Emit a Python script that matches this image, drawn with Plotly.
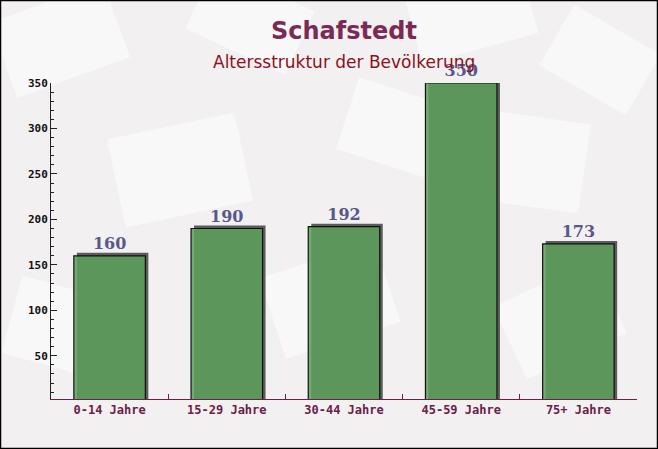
import math
import plotly.graph_objects as go

categories = ["0-14 Jahre", "15-29 Jahre", "30-44 Jahre", "45-59 Jahre", "75+ Jahre"]
values = [160, 190, 192, 350, 173]
title_text = "Schafstedt"
subtitle_text = "Altersstruktur der Bevölkerung"

W, H = 658, 449
ML, MR, MT, MB = 51, 21, 83, 50
pw, ph = W - ML - MR, H - MT - MB

def px2paper_x(px):
    return (px - ML) / pw

def px2paper_y(py):
    return (H - MB - py) / ph

fig = go.Figure()

bar_w = 0.61
shift = 3 / (pw / len(categories))  # 3 px shadow offset in category units
yrange = [2.5, 350]
unit_per_px = (yrange[1] - yrange[0]) / ph

# shadow bars
fig.add_trace(go.Bar(
    x=categories, y=[v + 3 * unit_per_px for v in values],
    width=bar_w, offset=-bar_w / 2 + shift,
    marker=dict(color="rgba(75,75,75,0.9)", line=dict(width=0)),
    hoverinfo="skip", showlegend=False,
))
# main bars
fig.add_trace(go.Bar(
    x=categories, y=values,
    width=bar_w, offset=-bar_w / 2,
    marker=dict(color="rgba(92,160,90,0.85)", line=dict(color="#111111", width=1.2)),
    text=[str(v) for v in values], textposition="outside",
    textfont=dict(family="DejaVu Serif", size=16, color="#58598a", weight="bold"),
    cliponaxis=False, showlegend=False,
))

# decorative background envelopes (light, rotated rectangles)
env = [
    (60, 40, 120, 80, -20), (250, 20, 110, 70, 25), (470, 10, 120, 80, -15),
    (600, 60, 100, 70, 30), (180, 170, 130, 90, -12), (520, 160, 130, 90, 8),
    (330, 300, 120, 85, -18), (70, 330, 120, 80, 15), (560, 320, 110, 80, -25),
    (400, 130, 110, 75, 18),
]
shapes = []
for cx, cy, w, h, ang in env:
    a = math.radians(ang)
    pts = []
    for dx, dy in [(-w/2, -h/2), (w/2, -h/2), (w/2, h/2), (-w/2, h/2)]:
        x = cx + dx * math.cos(a) - dy * math.sin(a)
        y = cy + dx * math.sin(a) + dy * math.cos(a)
        pts.append((px2paper_x(x), px2paper_y(y)))
    path = "M " + " L ".join(f"{x:.4f},{y:.4f}" for x, y in pts) + " Z"
    shapes.append(dict(type="path", xref="paper", yref="paper", path=path,
                       fillcolor="rgba(255,255,255,0.5)", line=dict(width=0),
                       layer="below"))
# outer border
shapes.append(dict(type="rect", xref="paper", yref="paper",
                   x0=px2paper_x(0.5), x1=px2paper_x(W - 0.5),
                   y0=px2paper_y(H - 0.5), y1=px2paper_y(0.5),
                   line=dict(color="#000000", width=1.5), layer="above"))

fig.update_layout(
    width=W, height=H,
    margin=dict(l=ML, r=MR, t=MT, b=MB),
    paper_bgcolor="#f3f0f1",
    plot_bgcolor="rgba(0,0,0,0)",
    barmode="overlay",
    bargap=0.39,
    shapes=shapes,
    annotations=[
        dict(text=f"<b>{title_text}</b>", xref="paper", yref="paper",
             x=0.5, y=px2paper_y(31), xanchor="center", yanchor="middle",
             showarrow=False, font=dict(family="DejaVu Sans", size=24, color="#7a2a55")),
        dict(text=subtitle_text, xref="paper", yref="paper",
             x=0.5, y=px2paper_y(62), xanchor="center", yanchor="middle",
             showarrow=False, font=dict(family="DejaVu Sans", size=17, color="#8b1020")),
    ],
    xaxis=dict(
        type="category", tickson="boundaries", ticks="inside", ticklen=5,
        tickcolor="#6a2048", showline=True, linecolor="#6a2048", linewidth=1,
        showgrid=False, mirror=False,
        tickfont=dict(family="DejaVu Sans Mono", size=12, color="#6a2048", weight="bold"),
        range=[-0.5, 4.5], fixedrange=True,
    ),
    yaxis=dict(
        range=yrange, tick0=0, dtick=50, ticks="inside", ticklen=6,
        tickcolor="#222222", showline=True, linecolor="#222222", linewidth=1,
        showgrid=False, zeroline=False,
        minor=dict(dtick=10, ticks="inside", ticklen=3, tickcolor="#222222"),
        tickfont=dict(family="DejaVu Sans Mono", size=11, color="#111111", weight="bold"),
    ),
)

fig.write_html("out.html", config={"displayModeBar": False},
               post_script="document.body.style.margin='0';")
